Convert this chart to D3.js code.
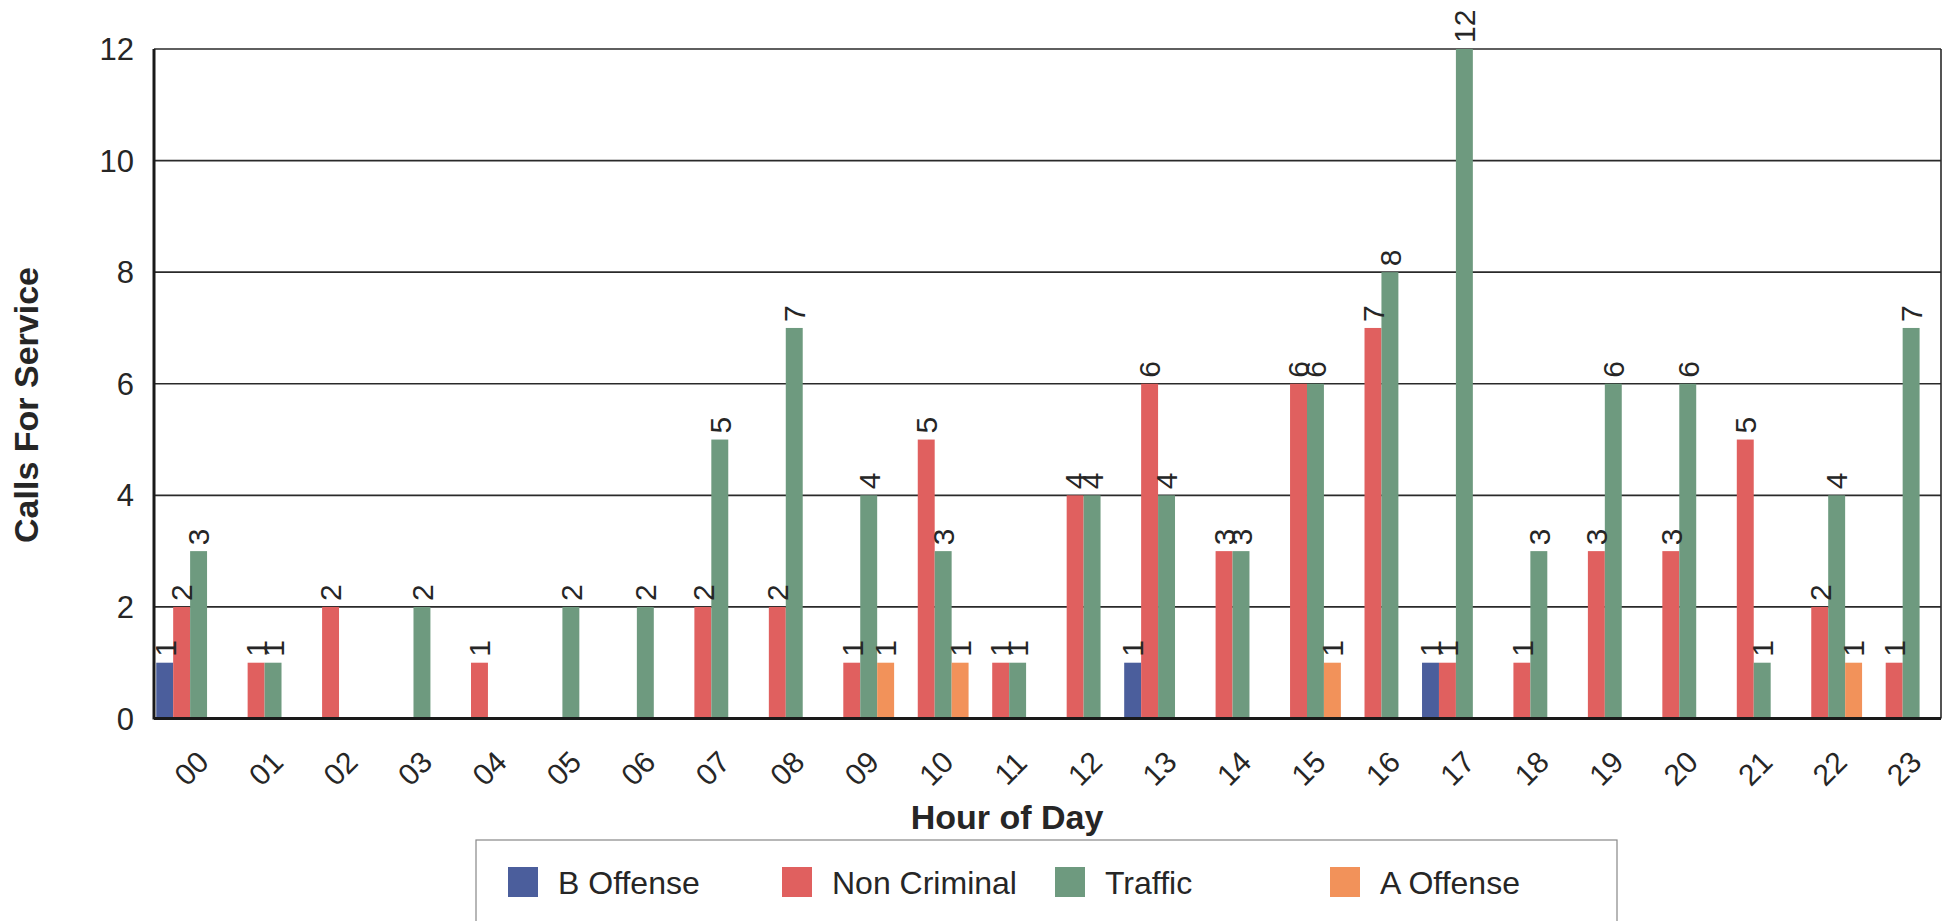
<!DOCTYPE html>
<html>
<head>
<meta charset="utf-8">
<script src="https://cdn.jsdelivr.net/npm/d3@7"></script>
<style>
  body { margin: 0; background: #fff; }
  text { font-family: "Liberation Sans", Arial, sans-serif; fill: #262626; }
</style>
</head>
<body>
<div id="svg-container"></div>
<script>
// data
var hours = ["00","01","02","03","04","05","06","07","08","09","10","11",
             "12","13","14","15","16","17","18","19","20","21","22","23"];
var seriesNames = ["B Offense", "Non Criminal", "Traffic", "A Offense"];
var bOffense    = [1,0,0,0,0,0,0,0,0,0,0,0,0,1,0,0,0,1,0,0,0,0,0,0];
var nonCriminal = [2,1,2,0,1,0,0,2,2,1,5,1,4,6,3,6,7,1,1,3,3,5,2,1];
var traffic     = [3,1,0,2,0,2,2,5,7,4,3,1,4,4,3,6,8,12,3,6,6,1,4,7];
var aOffense    = [0,0,0,0,0,0,0,0,0,1,1,0,0,0,0,1,0,0,0,0,0,0,1,0];
var yTicks = [0, 2, 4, 6, 8, 10, 12];
var colors = ["#4b5e9c", "#e0605f", "#6e9a7f", "#f2925a"];

var svgWidth = 1947, svgHeight = 921;
var plotLeft = 154, plotRight = 1941, plotTop = 49, plotBottom = 718.5;

var svg = d3.select("#svg-container").append("svg")
    .attr("width", svgWidth)
    .attr("height", svgHeight);

var allSeries = [bOffense, nonCriminal, traffic, aOffense];

// scales
var x = d3.scaleBand().domain(hours).range([plotLeft, plotRight]).padding(0);
var bw = x.bandwidth();
var x1 = d3.scaleBand().domain(seriesNames).range([bw * 0.03, bw * 0.94]).padding(0);
var y = d3.scaleLinear().domain([0, 12]).range([plotBottom, plotTop]);
var color = d3.scaleOrdinal().domain(seriesNames).range(colors);

// horizontal grid lines
svg.append("g").selectAll("line")
    .data(yTicks.filter(function(d) { return d > 0; }))
    .enter().append("line")
    .attr("x1", plotLeft).attr("x2", plotRight)
    .attr("y1", function(d) { return y(d); })
    .attr("y2", function(d) { return y(d); })
    .attr("stroke", "#2a2a2a")
    .attr("stroke-width", 1.6);

// right border
svg.append("line")
    .attr("x1", plotRight).attr("x2", plotRight)
    .attr("y1", plotTop).attr("y2", plotBottom)
    .attr("stroke", "#2a2a2a").attr("stroke-width", 1.6);

// flatten to one record per bar
var bars = [];
hours.forEach(function(h, i) {
    seriesNames.forEach(function(s, j) {
        if (allSeries[j][i] > 0) bars.push({hour: h, series: s, value: allSeries[j][i]});
    });
});

svg.append("g").selectAll(".bar")
    .data(bars)
    .enter().append("rect")
    .attr("class", "bar")
    .attr("x", function(d) { return x(d.hour) + x1(d.series); })
    .attr("y", function(d) { return y(d.value); })
    .attr("width", x1.bandwidth())
    .attr("height", function(d) { return plotBottom - y(d.value); })
    .attr("fill", function(d) { return color(d.series); });

// value labels, turned on their side
svg.append("g").selectAll(".vlabel")
    .data(bars)
    .enter().append("text")
    .attr("class", "vlabel")
    .attr("transform", function(d) {
        var cx = x(d.hour) + x1(d.series) + x1.bandwidth() / 2;
        return "translate(" + cx + "," + (y(d.value) - 6) + ") rotate(-90)";
    })
    .attr("dy", "0.36em")
    .attr("font-size", 30)
    .text(function(d) { return d.value; });

// axes lines (thick left and bottom)
svg.append("line")
    .attr("x1", plotLeft).attr("x2", plotLeft)
    .attr("y1", plotTop).attr("y2", plotBottom + 1)
    .attr("stroke", "#1a1a1a").attr("stroke-width", 3);
svg.append("line")
    .attr("x1", plotLeft).attr("x2", plotRight)
    .attr("y1", plotBottom).attr("y2", plotBottom)
    .attr("stroke", "#1a1a1a").attr("stroke-width", 3);

// y tick labels
svg.append("g").selectAll("text")
    .data(yTicks)
    .enter().append("text")
    .attr("x", plotLeft - 20)
    .attr("y", function(d) { return y(d); })
    .attr("dy", "0.36em")
    .attr("text-anchor", "end")
    .attr("font-size", 31)
    .text(function(d) { return d; });

// x tick labels, slanted
svg.append("g").selectAll("text")
    .data(hours)
    .enter().append("text")
    .attr("transform", function(d) {
        return "translate(" + (x(d) + bw / 2) + "," + 768 + ") rotate(-45)";
    })
    .attr("dy", "0.36em")
    .attr("text-anchor", "middle")
    .attr("font-size", 30)
    .text(function(d) { return d; });

// axis titles
svg.append("text")
    .attr("x", 1007).attr("y", 829)
    .attr("text-anchor", "middle")
    .attr("font-size", 34)
    .attr("font-weight", "bold")
    .text("Hour of Day");

svg.append("text")
    .attr("transform", "translate(38,405) rotate(-90)")
    .attr("text-anchor", "middle")
    .attr("font-size", 34)
    .attr("font-weight", "bold")
    .text("Calls For Service");

// legend box
var legend = svg.append("g");
legend.append("rect")
    .attr("x", 476).attr("y", 840)
    .attr("width", 1141).attr("height", 100)
    .attr("fill", "#fff")
    .attr("stroke", "#888").attr("stroke-width", 1.2);

var legendX = [508, 782, 1055, 1330];
var item = legend.selectAll(".item")
    .data(seriesNames)
    .enter().append("g")
    .attr("class", "item")
    .attr("transform", function(d, i) { return "translate(" + legendX[i] + ",867)"; });
item.append("rect")
    .attr("width", 30).attr("height", 30)
    .attr("fill", function(d) { return color(d); });
item.append("text")
    .attr("x", 50).attr("y", 15)
    .attr("dy", "0.36em")
    .attr("font-size", 32)
    .text(function(d) { return d; });
</script>
</body>
</html>
